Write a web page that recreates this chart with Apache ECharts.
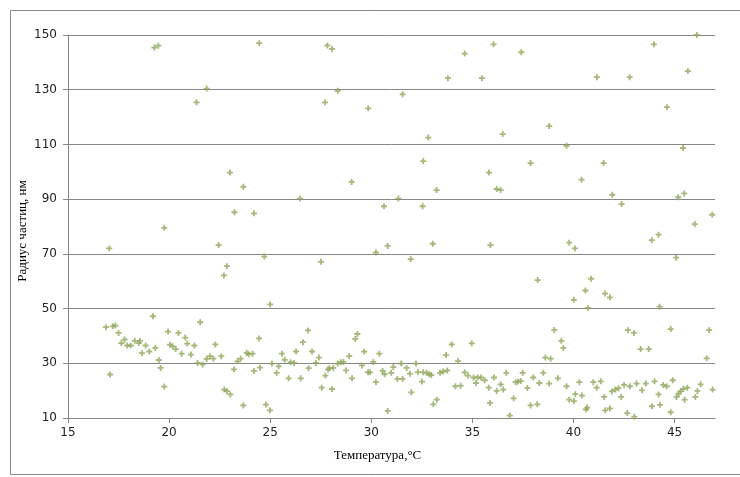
<!DOCTYPE html>
<html>
<head>
<meta charset="utf-8">
<script src="https://cdn.jsdelivr.net/npm/echarts@6/dist/echarts.min.js"></script>
<style>
html,body{margin:0;padding:0;background:#fff;}
#chart{width:740px;height:477px;}
</style>
</head>
<body>
<div id="chart"></div>
<script>
// Temperature (°C), particle radius (nm)
var pointsHigh = [
  [19.27,145.4],[19.47,146.1],[21.36,125.4],[21.86,130.4],[24.46,147.0],[27.83,146.2],[28.06,144.9],
  [27.71,125.4],[28.34,129.6],[29.85,123.2],[23.01,99.7],[23.67,94.5],[23.23,85.2],[24.2,84.8],
  [26.47,90.2],[29.03,96.3],[19.76,79.5],[46.1,150],[43.98,146.6],[45.66,136.8],[36.05,146.6],
  [34.62,143.2],[37.42,143.7],[33.79,134.2],[35.47,134.2],[41.16,134.6],[42.78,134.6],[31.55,128.3],
  [44.62,123.6],[32.82,112.5],[36.5,113.8],[38.8,116.7],[39.66,109.5],[45.42,108.7],[32.57,103.9],
  [37.88,103.2],[41.49,103.2],[35.82,99.7],[40.4,97.1],[33.23,93.3],[36.2,93.7],[36.4,93.3],
  [41.92,91.6],[42.38,88.2],[45.18,90.7],[45.48,92.1],[30.63,87.4],[31.34,90.2],[32.54,87.4],
  [46.86,84.3],[46.0,80.9],[44.21,77.0],[43.87,75.0]
];
var pointsMid = [
  [17.04,72],[22.45,73.2],[22.71,62.1],[22.86,65.5],[24.71,69],[27.51,67.1],[25.0,51.5],[30.23,70.5],
  [30.81,72.9],[33.04,73.7],[35.89,73.2],[31.95,68.1],[39.79,74.1],[40.07,72.0],[45.08,68.6],
  [38.23,60.4],[40.87,60.9],[40.59,56.6],[41.56,55.5],[41.8,54.1],[40.02,53.2],[40.72,50.2],[44.26,50.7]
];
var pointsLowA = [
  [16.88,43.2],[17.21,43.5],[17.34,43.8],[17.5,41.1],[17.8,38.7],[17.64,37.4],[17.93,36.5],[18.1,36.5],
  [18.3,38.2],[18.5,37.4],[18.56,38.2],[18.84,36.5],[18.66,33.7],[19.02,34.3],[19.32,35.6],[19.2,47.2],
  [17.08,25.9],[19.49,31.2],[19.58,28.3],[19.76,21.5],[19.95,41.6],[20.04,36.8],[20.18,36.2],[20.33,35.2],
  [20.46,41.1],[20.8,39.4],[20.9,37.2],[20.62,33.5],[21.25,36.5],[21.08,33.2],[21.54,45],[21.41,30.1],
  [21.66,29.6],[21.86,31.6],[22.02,32.6],[22.19,31.7],[22.29,36.9],[22.58,32.6],[22.73,20.4],[22.86,19.8],
  [23.03,18.6],[23.21,27.8],[23.39,30.7],[23.54,31.7],[23.67,14.6],[23.84,33.8]
];
var pointsLowB = [
  [23.94,33.3],[24.13,33.5],[24.45,39.1],[24.2,27.2],[24.5,28.4],[24.79,14.9],[24.99,12.8],[25.09,29.9],
  [25.32,26.5],[25.42,28.9],[25.58,33.5],[25.72,31.3],[25.91,24.5],[26.01,30.4],[26.18,30.1],[26.28,34.3],
  [26.51,24.5],[26.62,37.7],[26.87,42],[26.9,28.2],[27.07,34.3],[27.26,30.1],[27.41,32.1],[27.55,21.1],
  [27.73,25.5],[27.86,27.7],[27.93,28.2],[28.06,20.6],[28.12,28.3],[28.34,29.9],[28.49,30.4],[28.62,30.5],
  [28.75,27.4],[28.91,32.6],[29.05,24.5],[29.21,38.9],[29.31,40.7],[29.54,29.2],[29.65,34.3],[29.84,26.7],
  [29.94,26.7],[30.1,30.5],[30.23,23.1],[30.4,33.5],[30.56,27.2],[30.66,26.0],[30.81,12.6],[30.99,26.5],
  [31.09,28.6],[31.29,24.3]
];
var pointsLowC = [
  [31.55,24.3],[31.48,29.9],[31.75,28.3],[31.91,26.2],[31.98,19.4],[32.21,29.9],[32.31,26.8],[32.51,23.3],
  [32.57,26.7],[32.74,26.5],[32.87,26.0],[32.97,25.7],[33.07,15],[33.24,16.7],[33.4,26.5],[33.56,27],
  [33.76,27.4],[33.7,33.0],[33.98,36.9],[34.16,21.6],[34.42,21.8],[34.29,30.8],[34.62,26.7],[34.78,25.5],
  [34.97,37.3],[35.06,24.8],[35.26,24.8],[35.43,24.8],[35.18,22.8],[35.61,23.8],[35.81,21.1],[35.87,15.5],
  [36.07,24.8],[36.2,19.9],[36.4,22.3],[36.53,20.4],[36.68,26.5],[36.85,10.9],[37.04,17.2],[37.14,23.1],
  [37.26,23.3],[37.39,23.5],[37.49,26.5],[37.72,21.0],[37.88,14.6],[38.21,15.0],[38.01,24.8],[38.31,22.8],
  [38.51,26.5],[38.61,32.1],[38.87,31.7],[38.8,22.6],[39.05,42.2]
];
var pointsLowD = [
  [39.4,38.2],[39.5,35.6],[39.23,24.5],[39.66,21.6],[39.79,16.7],[40.02,16.2],[40.09,18.7],[40.29,23.1],
  [40.42,18.2],[40.62,13.1],[40.68,13.8],[40.98,23.1],[41.15,21.1],[41.35,23.4],[41.52,17.7],[41.57,12.8],
  [41.8,13.5],[41.9,19.7],[42.07,20.4],[42.23,20.9],[42.36,17.7],[42.5,22.1],[42.79,21.6],[42.66,11.8],
  [43.01,10.5],[43.12,22.6],[43.39,20.1],[43.58,22.6],[43.88,14.3],[44.01,23.4],[44.21,18.6],[44.28,14.8],
  [44.44,22.1],[44.61,21.6],[44.81,12.1],[44.91,23.8],[45.1,17.7],[45.2,18.9],[45.3,19.7],[45.5,16.7],
  [45.43,20.6],[45.63,21.1],[46.03,17.7],[46.13,19.9],[46.29,22.3],[46.88,20.4],[42.69,42.1],[42.99,41.1],
  [43.32,35.2],[43.72,35.2],[44.81,42.5],[46.71,42.1],[46.59,31.8]
];
var xTicks = [15, 20, 25, 30, 35, 40, 45];
var yTicks = [10, 30, 50, 70, 90, 110, 130, 150];
var xTitle = 'Температура,°С';
var yTitle = 'Радиус частиц, нм';

var allPoints = pointsHigh.concat(pointsMid, pointsLowA, pointsLowB, pointsLowC, pointsLowD);

var chart = echarts.init(document.getElementById('chart'), null, {renderer: 'canvas'});
chart.setOption({
  animation: false,
  backgroundColor: '#ffffff',
  graphic: [{
    type: 'rect',
    silent: true,
    shape: {x: 10.5, y: 10.5, width: 740, height: 464},
    style: {fill: 'none', stroke: '#8a8a8a', lineWidth: 1}
  }],
  grid: {left: 68, right: 25, top: 35, bottom: 59, containLabel: false},
  xAxis: {
    type: 'value',
    min: 15, max: 47, interval: 5,
    name: xTitle,
    nameLocation: 'middle',
    nameGap: 31,
    nameTextStyle: {fontFamily: 'Liberation Serif', fontSize: 13, color: '#000', padding: [0, 28, 0, 0]},
    axisLine: {show: true, lineStyle: {color: '#868686', width: 1}},
    axisTick: {show: true, length: 5, inside: false, lineStyle: {color: '#868686'}, customValues: xTicks},
    axisLabel: {fontFamily: 'DejaVu Sans', fontSize: 12, color: '#222', margin: 9, customValues: xTicks},
    splitLine: {show: false}
  },
  yAxis: {
    type: 'value',
    min: 10, max: 150, interval: 20,
    name: yTitle,
    nameLocation: 'middle',
    nameGap: 39,
    nameMoveOverlap: false,
    nameTextStyle: {fontFamily: 'Liberation Serif', fontSize: 13, color: '#000', padding: [0, 9, 0, 0]},
    axisLine: {show: true, lineStyle: {color: '#868686', width: 1}},
    axisTick: {show: true, length: 5, inside: false, lineStyle: {color: '#868686'}, customValues: yTicks},
    axisLabel: {fontFamily: 'DejaVu Sans', fontSize: 12, color: '#222', margin: 11, customValues: yTicks},
    splitLine: {show: true, lineStyle: {color: '#868686', width: 1}}
  },
  series: [{
    type: 'scatter',
    data: allPoints,
    symbol: 'path://M-0.9,-3 L0.9,-3 L0.9,-0.9 L3,-0.9 L3,0.9 L0.9,0.9 L0.9,3 L-0.9,3 L-0.9,0.9 L-3,0.9 L-3,-0.9 L-0.9,-0.9 Z',
    symbolSize: 6,
    itemStyle: {color: '#8fa65a'},
    emphasis: {disabled: true}
  }]
});
</script>
</body>
</html>
